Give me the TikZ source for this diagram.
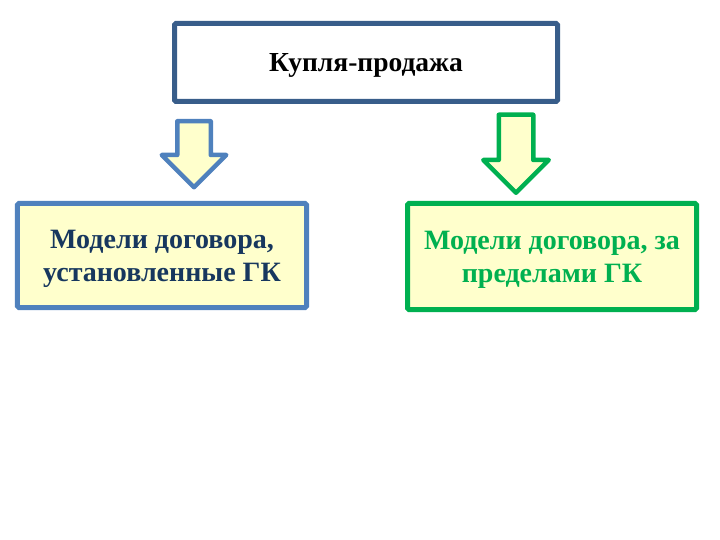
\documentclass[tikz,border=0pt]{standalone}
\usepackage{fontspec}
\setmainfont{Liberation Serif}
\usetikzlibrary{shapes.arrows}
\definecolor{cNavy}{RGB}{56,93,138}
\definecolor{cBlue}{RGB}{79,129,189}
\definecolor{cGreen}{RGB}{0,176,80}
\definecolor{cInk}{RGB}{23,55,94}
\definecolor{cCream}{RGB}{255,255,204}
\tikzset{
	topbox/.style={draw=cNavy, line width=5bp, rounded corners=1.5bp,
		fill=white, minimum width=383bp, minimum height=78bp, text depth=0pt,
		font=\fontsize{27.5bp}{32bp}\selectfont\bfseries},
	mbox/.style={line width=5bp, rounded corners=1.5bp, fill=cCream,
		align=center, minimum width=289bp, inner sep=0pt, text depth=0pt,
		font=\fontsize{28bp}{33bp}\selectfont\bfseries},
	downarr/.style={single arrow, shape border rotate=270, line width=4.5bp,
		fill=cCream, line join=round, single arrow head extend=15.5bp,
		anchor=tail},
}
\begin{document}
\begin{tikzpicture}[x=1bp, y=-1bp]
	\useasboundingbox (0,0) rectangle (720,540);
	\node[topbox] (sale) at (366,62.5) {Купля-продажа};
	\node[mbox, draw=cBlue, text=cInk, minimum height=104bp] (inGK) at (162,255.5)
		{Модели договора,\\установленные ГК};
	\node[mbox, draw=cGreen, text=cGreen, minimum height=106bp] (outGK) at (552,256.5)
		{Модели договора, за\\пределами ГК};
	\node[downarr, draw=cBlue, inner sep=14.5bp, minimum height=66bp] (larr) at (194,119) {};
	\node[downarr, draw=cGreen, inner sep=15bp, minimum height=78bp] (rarr) at (516,112.5) {};
\end{tikzpicture}
\end{document}
